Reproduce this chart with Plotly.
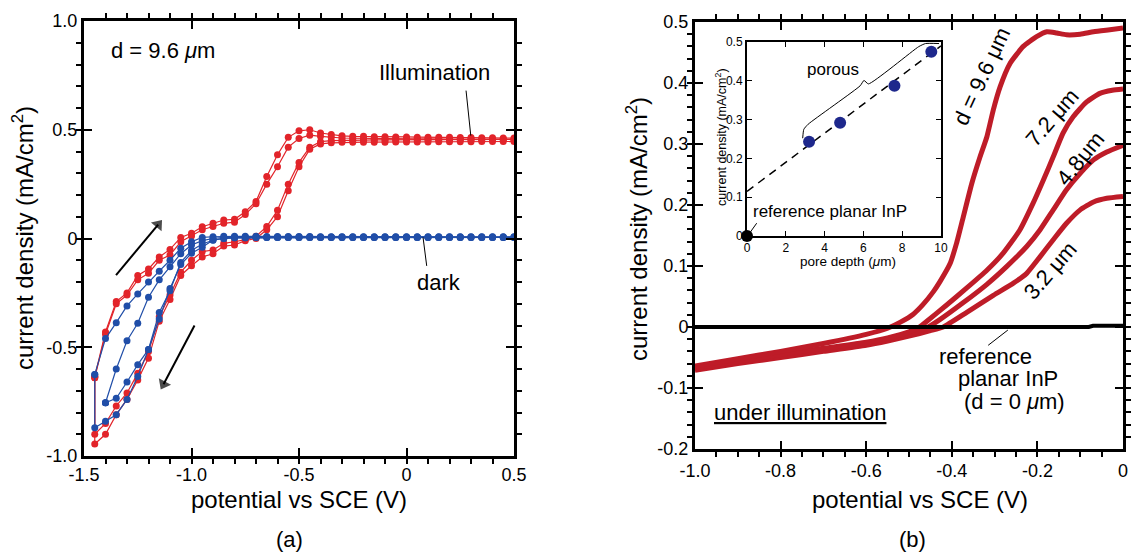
import plotly.graph_objects as go

W, H = 1133, 554

# ---------------- Panel (a): cyclic voltammograms, d = 9.6 um ----------------
POT = [-1.45, -1.40, -1.35, -1.30, -1.25, -1.20, -1.15, -1.10, -1.05, -1.00,
       -0.95, -0.90, -0.85, -0.80, -0.75, -0.70, -0.65, -0.60, -0.55, -0.50,
       -0.45, -0.40, -0.35, -0.30, -0.25, -0.20, -0.15, -0.10, -0.05, 0.00,
       0.05, 0.10, 0.15, 0.20, 0.25, 0.30, 0.35, 0.40, 0.45, 0.50]

# illumination, cycle 1 (anodic sweep / cathodic sweep)
RED_A_UP = [-0.635, -0.43, -0.29, -0.25, -0.17, -0.14, -0.085, -0.05, 0.005, 0.024,
            0.054, 0.07, 0.085, 0.088, 0.123, 0.17, 0.285, 0.385, 0.465, 0.495,
            0.50, 0.485, 0.478, 0.472, 0.470, 0.470, 0.468, 0.468, 0.467, 0.467,
            0.466, 0.466, 0.465, 0.465, 0.464, 0.464, 0.463, 0.463, 0.462, 0.462]
RED_A_LOW = [-0.90, -0.85, -0.77, -0.71, -0.62, -0.52, -0.36, -0.26, -0.155, -0.10,
             -0.06, -0.053, -0.022, -0.015, -0.005, 0.01, 0.055, 0.13, 0.25, 0.35,
             0.42, 0.445, 0.45, 0.452, 0.452, 0.452, 0.453, 0.453, 0.453, 0.453,
             0.454, 0.454, 0.454, 0.454, 0.455, 0.455, 0.455, 0.455, 0.456, 0.456]
# illumination, cycle 2
RED_B_UP = [-0.64, -0.44, -0.30, -0.26, -0.19, -0.16, -0.10, -0.076, -0.015, 0.012,
            0.04, 0.055, 0.07, 0.075, 0.11, 0.16, 0.25, 0.33, 0.42, 0.46,
            0.475, 0.47, 0.465, 0.462, 0.461, 0.460, 0.460, 0.459, 0.459, 0.458,
            0.458, 0.458, 0.457, 0.457, 0.457, 0.456, 0.456, 0.456, 0.455, 0.455]
RED_B_LOW = [-0.945, -0.90, -0.81, -0.74, -0.65, -0.55, -0.38, -0.28, -0.17, -0.125,
             -0.085, -0.07, -0.035, -0.03, -0.01, 0.0, 0.04, 0.10, 0.22, 0.33,
             0.41, 0.435, 0.44, 0.442, 0.442, 0.443, 0.443, 0.443, 0.444, 0.444,
             0.444, 0.444, 0.445, 0.445, 0.445, 0.445, 0.446, 0.446, 0.446, 0.446]
# dark, outer cycle
BLUE_A_UP = [-0.625, -0.46, -0.387, -0.31, -0.255, -0.20, -0.15, -0.10, -0.045, -0.015,
             0.005, 0.008, 0.01, 0.01, 0.01, 0.01, 0.009, 0.009, 0.009, 0.009,
             0.009, 0.008, 0.008, 0.008, 0.008, 0.008, 0.008, 0.008, 0.008, 0.008,
             0.008, 0.008, 0.008, 0.008, 0.008, 0.008, 0.008, 0.008, 0.008, 0.008]
BLUE_A_LOW = [-0.87, -0.84, -0.81, -0.74, -0.635, -0.51, -0.37, -0.23, -0.12, -0.068,
              -0.04, -0.007, 0.0, 0.003, 0.004, 0.005, 0.005, 0.005, 0.005, 0.005,
              0.005, 0.005, 0.005, 0.005, 0.005, 0.005, 0.005, 0.005, 0.005, 0.005,
              0.005, 0.005, 0.005, 0.005, 0.005, 0.005, 0.005, 0.005, 0.005, 0.005]
# dark, inner cycle (starts at -1.40 V)
POT_B = POT[1:]
BLUE_B_UP = [-0.755, -0.60, -0.47, -0.39, -0.27, -0.19, -0.13, -0.07, -0.03,
             -0.01, 0.0, 0.005, 0.006, 0.007, 0.007, 0.007, 0.007, 0.007, 0.007,
             0.007, 0.007, 0.007, 0.007, 0.007, 0.007, 0.007, 0.007, 0.007, 0.007,
             0.007, 0.007, 0.007, 0.007, 0.007, 0.007, 0.007, 0.007, 0.007, 0.007]
BLUE_B_LOW = [-0.755, -0.735, -0.66, -0.58, -0.51, -0.34, -0.24, -0.11, -0.055,
              -0.025, -0.008, 0.0, 0.003, 0.004, 0.005, 0.005, 0.005, 0.005, 0.005,
              0.005, 0.005, 0.005, 0.005, 0.005, 0.005, 0.005, 0.005, 0.005, 0.005,
              0.005, 0.005, 0.005, 0.005, 0.005, 0.005, 0.005, 0.005, 0.005, 0.005]
# sweep-direction arrows (tail, head)
ARROW_UP_X = [-1.351, -1.155]
ARROW_UP_Y = [-0.168, 0.064]
ARROW_DOWN_X = [-0.986, -1.13]
ARROW_DOWN_Y = [-0.40, -0.67]

# ---------------- Panel (b): sweeps under illumination ----------------
D96_X = [-1.0, -0.9, -0.8, -0.7, -0.6, -0.55, -0.52, -0.49, -0.467, -0.443, -0.428,
         -0.404, -0.389, -0.373, -0.353, -0.334, -0.318, -0.303, -0.287, -0.264,
         -0.233, -0.202, -0.178, -0.155, -0.132, -0.10, -0.069, -0.035, 0.0]
D96_Y = [-0.064, -0.052, -0.04, -0.027, -0.012, -0.002, 0.008, 0.021, 0.037, 0.058, 0.074,
         0.104, 0.137, 0.181, 0.236, 0.279, 0.312, 0.356, 0.394, 0.432,
         0.46, 0.476, 0.484, 0.482, 0.479, 0.480, 0.484, 0.487, 0.49]
D72_X = [-1.0, -0.9, -0.8, -0.7, -0.6, -0.55, -0.5, -0.475, -0.459, -0.412, -0.365, -0.318,
         -0.28, -0.241, -0.21, -0.186, -0.163, -0.14, -0.116, -0.085, -0.054, -0.025, 0.0]
D72_Y = [-0.067, -0.056, -0.045, -0.035, -0.025, -0.018, -0.008, 0.0, 0.009, 0.036, 0.064, 0.093,
         0.121, 0.159, 0.203, 0.241, 0.279, 0.318, 0.345, 0.369, 0.383, 0.388, 0.39]
D48_X = [-1.0, -0.9, -0.8, -0.7, -0.6, -0.55, -0.5, -0.46, -0.428, -0.373, -0.318, -0.272,
         -0.225, -0.194, -0.163, -0.132, -0.10, -0.069, -0.038, 0.0]
D48_Y = [-0.069, -0.058, -0.048, -0.038, -0.028, -0.021, -0.012, -0.002, 0.012, 0.040, 0.070, 0.099,
         0.132, 0.159, 0.192, 0.225, 0.252, 0.274, 0.287, 0.298]
D32_X = [-1.0, -0.9, -0.8, -0.7, -0.6, -0.55, -0.5, -0.45, -0.42, -0.365, -0.303, -0.256,
         -0.225, -0.194, -0.163, -0.132, -0.10, -0.069, -0.038, 0.0]
D32_Y = [-0.071, -0.06, -0.05, -0.04, -0.03, -0.023, -0.015, -0.006, 0.0, 0.024, 0.052, 0.072,
         0.088, 0.115, 0.143, 0.17, 0.192, 0.205, 0.211, 0.214]
REF_X = [-1.0, -0.08, -0.07, 0.0]
REF_Y = [0.0, 0.0, 0.002, 0.002]

# ---------------- Inset: plateau current vs pore depth ----------------
DEPTH = [3.2, 4.8, 7.6, 9.5]
J_PLATEAU = [0.243, 0.292, 0.387, 0.475]
REF_DEPTH = [0.0]
REF_J = [0.0]
FIT_X = [0.0, 10.0]
FIT_Y = [0.115, 0.49]
BRACE_X = [2.87, 2.93, 3.15, 5.83, 6.03, 6.26, 8.85, 9.2, 9.9]
BRACE_Y = [0.252, 0.275, 0.288, 0.387, 0.401, 0.392, 0.488, 0.496, 0.496]

# tick label text (hyphen minus, "0" instead of "0.0")
ALIAS = {}
for s in ["1.5", "1", "0.8", "0.6", "0.5", "0.4", "0.3", "0.2", "0.1"]:
    txt = s if "." in s else s + ".0"
    ALIAS["\u2212" + s] = "-" + txt
    ALIAS["-" + s] = "-" + txt
ALIAS_A = dict(ALIAS, **{"1": "1.0"})

FONT = "Liberation Sans, Arial, Helvetica, sans-serif"
RED = "rgb(226,36,42)"
BLUE = "rgb(32,78,168)"
DARKRED = "rgb(190,28,40)"
NAVY = "rgb(30,40,140)"


def px(x):
    return x / W


def py(y):
    return 1 - y / H


fig = go.Figure()

# panel (a)
for up, low in [(RED_A_UP, RED_A_LOW), (RED_B_UP, RED_B_LOW)]:
    fig.add_trace(go.Scatter(
        x=POT + POT[::-1] + [POT[0]], y=up + low[::-1] + [up[0]],
        mode="lines+markers", line=dict(color=RED, width=1.2),
        marker=dict(size=7, color=RED), xaxis="x", yaxis="y", showlegend=False))
for xs, up, low in [(POT, BLUE_A_UP, BLUE_A_LOW), (POT_B, BLUE_B_UP, BLUE_B_LOW)]:
    fig.add_trace(go.Scatter(
        x=xs + xs[::-1] + [xs[0]], y=up + low[::-1] + [up[0]],
        mode="lines+markers", line=dict(color=BLUE, width=1.2),
        marker=dict(size=7, color=BLUE), xaxis="x", yaxis="y", showlegend=False))
for ax_, ay_ in [(ARROW_UP_X, ARROW_UP_Y), (ARROW_DOWN_X, ARROW_DOWN_Y)]:
    fig.add_trace(go.Scatter(
        x=ax_, y=ay_, mode="lines+markers", line=dict(color="black", width=2),
        marker=dict(symbol=["circle", "triangle-up"], size=[0, 12], color="black",
                    angleref="previous", line=dict(width=0)),
        xaxis="x", yaxis="y", showlegend=False, hoverinfo="skip"))

# panel (b)
for xs, ys in [(D32_X, D32_Y), (D48_X, D48_Y), (D72_X, D72_Y), (D96_X, D96_Y)]:
    fig.add_trace(go.Scatter(
        x=xs, y=ys, mode="lines", line=dict(color=DARKRED, width=5, shape="spline", smoothing=0.5),
        xaxis="x2", yaxis="y2", showlegend=False))
fig.add_trace(go.Scatter(
    x=REF_X, y=REF_Y, mode="lines", line=dict(color="black", width=4),
    xaxis="x2", yaxis="y2", showlegend=False))

# inset
fig.add_trace(go.Scatter(
    x=FIT_X, y=FIT_Y, mode="lines", line=dict(color="black", width=1.5, dash="8px,6px"),
    xaxis="x3", yaxis="y3", showlegend=False))
fig.add_trace(go.Scatter(
    x=BRACE_X, y=BRACE_Y, mode="lines", line=dict(color="black", width=1, shape="spline", smoothing=0.5),
    xaxis="x3", yaxis="y3", showlegend=False))
fig.add_trace(go.Scatter(
    x=DEPTH, y=J_PLATEAU, mode="markers", marker=dict(size=12, color=NAVY),
    xaxis="x3", yaxis="y3", showlegend=False))
fig.add_trace(go.Scatter(
    x=REF_DEPTH, y=REF_J, mode="markers", marker=dict(size=12, color="black"),
    xaxis="x3", yaxis="y3", showlegend=False, cliponaxis=False))

axis_common = dict(showline=True, linecolor="black", linewidth=3, mirror="ticks",
                   ticks="inside", tickcolor="black", tickwidth=1.5, ticklen=8,
                   showgrid=False, zeroline=False, automargin=False, tickmode="linear",
                   tickfont=dict(size=18, color="black", family=FONT))


def minor(dt, ln=5):
    return dict(dtick=dt, ticklen=ln, tickwidth=1.5, tickcolor="black", showgrid=False)


fig.update_layout(
    width=W, height=H, margin=dict(l=0, r=0, t=0, b=0, pad=0),
    plot_bgcolor="white", paper_bgcolor="white",
    font=dict(family=FONT, color="black"),
    xaxis=dict(axis_common, domain=[px(84), px(514)], range=[-1.5, 0.5], anchor="y",
               tick0=-1.5, dtick=0.5, labelalias=ALIAS_A, minor=minor(0.1)),
    yaxis=dict(axis_common, domain=[py(456), py(21)], range=[-1.0, 1.0], anchor="x",
               tick0=-1.0, dtick=0.5, labelalias=ALIAS_A, minor=minor(0.1)),
    xaxis2=dict(axis_common, domain=[px(695), px(1123)], range=[-1.0, 0.0], anchor="y2",
                tick0=-1.0, dtick=0.2, labelalias=ALIAS, minor=minor(0.05),
                ticklabelstandoff=3),
    yaxis2=dict(axis_common, domain=[py(449), py(22)], range=[-0.2, 0.5], anchor="x2",
                tick0=-0.2, dtick=0.1, labelalias=ALIAS, minor=minor(0.02)),
    xaxis3=dict(axis_common, domain=[px(747), px(941)], range=[0, 10], anchor="y3",
                linewidth=2, ticklen=5, tickwidth=1.2, tick0=0, dtick=2,
                tickfont=dict(size=12, color="black", family=FONT)),
    yaxis3=dict(axis_common, domain=[py(236), py(42)], range=[0, 0.5], anchor="x3",
                linewidth=2, ticklen=5, tickwidth=1.2, tick0=0, dtick=0.1,
                tickfont=dict(size=12, color="black", family=FONT)),
)


def ann(text, x, y, size=22, angle=0, **kw):
    fig.add_annotation(text=text, x=px(x), y=py(y), xref="paper", yref="paper",
                       showarrow=False, textangle=angle,
                       font=dict(size=size, color="black", family=FONT),
                       xanchor="center", yanchor="middle", **kw)


def leader(x0, y0, x1, y1, xr, yr):
    fig.add_shape(type="line", x0=x0, y0=y0, x1=x1, y1=y1, xref=xr, yref=yr,
                  line=dict(color="black", width=1))


# axis titles
ann("potential vs SCE (V)", 299, 500, size=24)
ann("current density (mA/cm<sup>2</sup>)", 23, 238, size=24, angle=-90)
ann("potential vs SCE (V)", 920, 500, size=24)
ann("current density (mA/cm<sup>2</sup>)", 637, 229, size=24, angle=-90)
ann("(a)", 289, 539)
ann("(b)", 912, 539)

# panel (a) labels
ann("d = 9.6 <i>μ</i>m", 163, 51)
ann("Illumination", 434, 73)
ann("dark", 439, 282)
leader(0.277, 0.68, 0.299, 0.473, "x", "y")
leader(0.077, 0.005, 0.094, -0.126, "x", "y")

# panel (b) labels
ann("d = 9.6 μm", 982, 77, angle=-65)
ann("7.2 μm", 1052, 117, angle=-49)
ann("4.8μm", 1080, 158, angle=-51)
ann("3.2 μm", 1050, 270, angle=-49)
ann("<u>under illumination</u>", 800, 412)
ann("reference", 985, 356)
ann("planar InP", 1008, 378)
ann("(d = 0 <i>μ</i>m)", 1014, 401)
leader(-0.269, -0.005, -0.315, -0.03, "x2", "y2")

# inset labels
ann("pore depth (<i>μ</i>m)", 848, 261, size=13.5)
ann("current density (mA/cm<sup>2</sup>)", 721, 137, size=12.5, angle=-90)
fig.add_annotation(text="porous", x=4.45, y=0.43, xref="x3", yref="y3", showarrow=False,
                   font=dict(size=17, color="black", family=FONT))
fig.add_annotation(text="reference planar InP", x=4.28, y=0.063, xref="x3", yref="y3", showarrow=False,
                   font=dict(size=17, color="black", family=FONT))
leader(0.1, 0.005, 0.5, 0.033, "x3", "y3")

fig.write_html("out.html", config={"displayModeBar": False},
               post_script="document.body.style.margin='0px';document.body.style.overflow='hidden';")
